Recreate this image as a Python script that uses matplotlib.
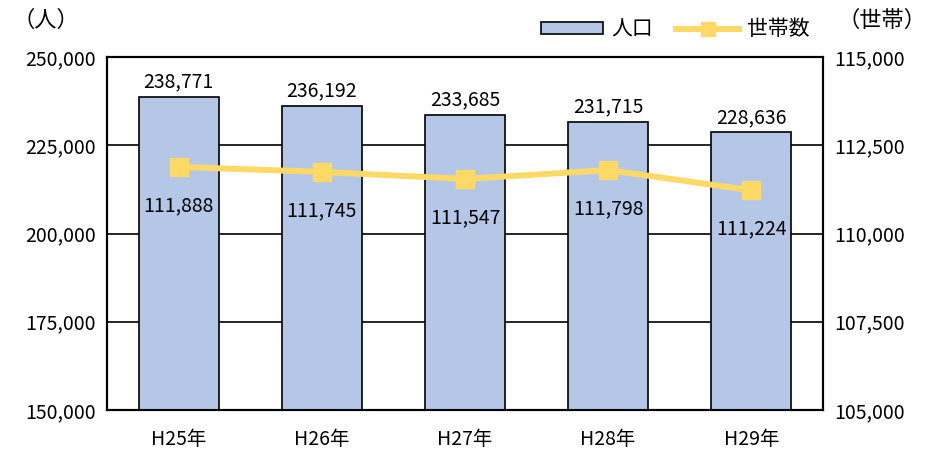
import matplotlib
matplotlib.use("Agg")
import matplotlib.pyplot as plt
from matplotlib.ticker import FuncFormatter

plt.rcParams['font.family'] = ['Noto Sans CJK JP', 'DejaVu Sans']

years = ["H25年", "H26年", "H27年", "H28年", "H29年"]
population = [238771, 236192, 233685, 231715, 228636]
households = [111888, 111745, 111547, 111798, 111224]

BAR = "#b4c7e7"
LINE = "#ffd966"
FS = 14

fig = plt.figure(figsize=(9.25, 4.53), dpi=100)
ax = fig.add_axes([0.1157, 0.095, 0.774, 0.779])
ax2 = ax.twinx()

x = range(len(years))
ax.bar(x, population, width=0.56, color=BAR, edgecolor="black", linewidth=1.2,
       zorder=3, label="人口")
ax.set_ylim(150000, 250000)
ax.set_yticks(range(150000, 250001, 25000))
ax.set_xlim(-0.5, len(years) - 0.5)
ax.set_xticks(list(x))
ax.set_xticklabels(years)
ax.grid(axis="y", color="black", linewidth=1.2, zorder=0)
ax.set_axisbelow(True)
fmt = FuncFormatter(lambda v, p: f"{int(v):,}")
ax.yaxis.set_major_formatter(fmt)
for i, v in enumerate(population):
    ax.annotate(f"{v:,}", (i, v), xytext=(0, 3), textcoords="offset points",
                ha="center", va="bottom", fontsize=FS)

ax2.plot(list(x), households, color=LINE, linewidth=4.3, marker="s",
         markersize=12.5, zorder=4, label="世帯数")
ax2.set_ylim(105000, 115000)
ax2.set_yticks(range(105000, 115001, 2500))
ax2.yaxis.set_major_formatter(fmt)
for i, v in enumerate(households):
    ax2.annotate(f"{v:,}", (i, v), xytext=(0, -28), textcoords="offset points",
                 ha="center", va="center", fontsize=FS)

for a in (ax, ax2):
    a.tick_params(length=0, labelsize=FS, pad=8)
    for s in a.spines.values():
        s.set_linewidth(1.5)
ax.set_zorder(ax2.get_zorder() - 1)
ax2.patch.set_visible(False)
ax.tick_params(axis="x", pad=14)

fig.text(0.05, 0.955, "（人）", fontsize=16, ha="center", va="center")
fig.text(0.953, 0.955, "（世帯）", fontsize=16, ha="center", va="center")

h1, l1 = ax.get_legend_handles_labels()
h2, l2 = ax2.get_legend_handles_labels()
fig.legend(h1 + h2, l1 + l2, loc="center", bbox_to_anchor=(0.73, 0.935), ncol=2,
           frameon=False, fontsize=15, handlelength=3.0, handleheight=0.5,
           columnspacing=1.1, handletextpad=0.4, markerscale=0.75)

fig.savefig("out.png", dpi=100)
